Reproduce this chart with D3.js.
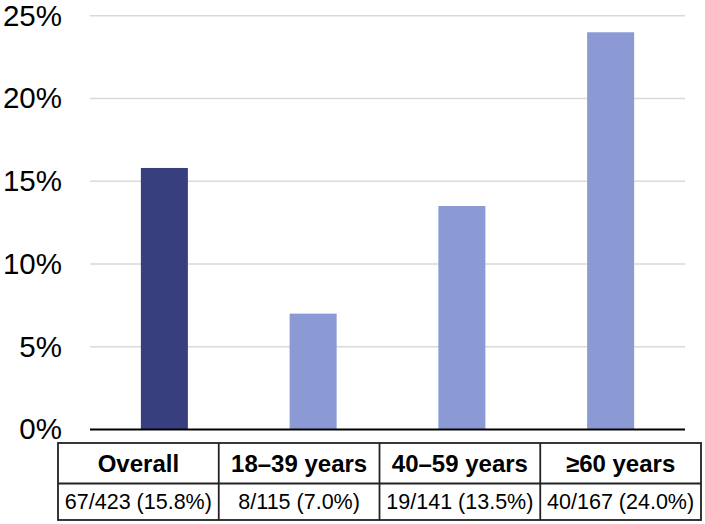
<!DOCTYPE html>
<html><head><meta charset="utf-8">
<script src="https://cdn.jsdelivr.net/npm/d3@7"></script>
<style>body{margin:0;background:#fff}svg{display:block}</style>
</head><body>
<svg id="c" width="705" height="524"></svg>
<script>
const categories = ["Overall", "18–39 years", "40–59 years", "≥60 years"];
const values = [15.8, 7.0, 13.5, 24.0];
const counts = ["67/423 (15.8%)", "8/115 (7.0%)", "19/141 (13.5%)", "40/167 (24.0%)"];
const yTicks = [0, 5, 10, 15, 20, 25];
const barColors = ["#373f7f", "#8b9ad4", "#8b9ad4", "#8b9ad4"];

const svg = d3.select("#c");
const font = "Arial, 'Liberation Sans', sans-serif";
const x = d3.scaleBand().domain(categories).range([90, 685]).paddingInner(0.684).paddingOuter(0.342);
const y = d3.scaleLinear().domain([0, 25]).range([429.5, 15.7]);

// gridlines
svg.append("g").selectAll("line").data(yTicks.filter(d => d > 0)).join("line")
  .attr("x1", 90).attr("x2", 685)
  .attr("y1", d => y(d)).attr("y2", d => y(d))
  .attr("stroke", "#d9d9d9").attr("stroke-width", 1.5);

// y axis labels
const yAxis = d3.axisLeft(y).tickValues(yTicks).tickFormat(d => d + "%").tickSize(0).tickPadding(0);
const ya = svg.append("g").attr("transform", "translate(62,0)").call(yAxis);
ya.select(".domain").remove();
ya.selectAll("text").attr("font-family", font).attr("font-size", 29.5).attr("fill", "#000");

// bars
svg.append("g").selectAll("rect").data(values).join("rect")
  .attr("x", (d, i) => x(categories[i]))
  .attr("width", x.bandwidth())
  .attr("y", d => y(d))
  .attr("height", d => y(0) - y(d))
  .attr("fill", (d, i) => barColors[i]);

// baseline
svg.append("line").attr("x1", 90).attr("x2", 685).attr("y1", y(0)).attr("y2", y(0))
  .attr("stroke", "#000").attr("stroke-width", 1.8);

// table
const tx = d3.scaleBand().domain(categories).range([58, 701]);
const tTop = 443, tMid = 483.5, tBot = 520;
const tg = svg.append("g");
tg.append("rect").attr("x", 58).attr("y", tTop).attr("width", 643).attr("height", tBot - tTop)
  .attr("fill", "none").attr("stroke", "#222").attr("stroke-width", 1.8);
tg.append("line").attr("x1", 58).attr("x2", 701).attr("y1", tMid).attr("y2", tMid)
  .attr("stroke", "#222").attr("stroke-width", 1.8);
tg.selectAll("line.div").data(categories.slice(1)).join("line").attr("class", "div")
  .attr("x1", d => tx(d)).attr("x2", d => tx(d)).attr("y1", tTop).attr("y2", tBot)
  .attr("stroke", "#222").attr("stroke-width", 1.8);
tg.selectAll("text.h").data(categories).join("text").attr("class", "h")
  .attr("x", d => tx(d) + tx.bandwidth() / 2).attr("y", (tTop + tMid) / 2)
  .attr("dy", "0.35em").attr("text-anchor", "middle")
  .attr("font-family", font).attr("font-weight", "bold").attr("font-size", 24)
  .attr("fill", "#000").text(d => d);
tg.selectAll("text.v").data(counts).join("text").attr("class", "v")
  .attr("x", (d, i) => tx(categories[i]) + tx.bandwidth() / 2).attr("y", (tMid + tBot) / 2)
  .attr("dy", "0.35em").attr("text-anchor", "middle")
  .attr("font-family", font).attr("font-size", 21.5)
  .attr("fill", "#000").text(d => d);
</script>
</body></html>
